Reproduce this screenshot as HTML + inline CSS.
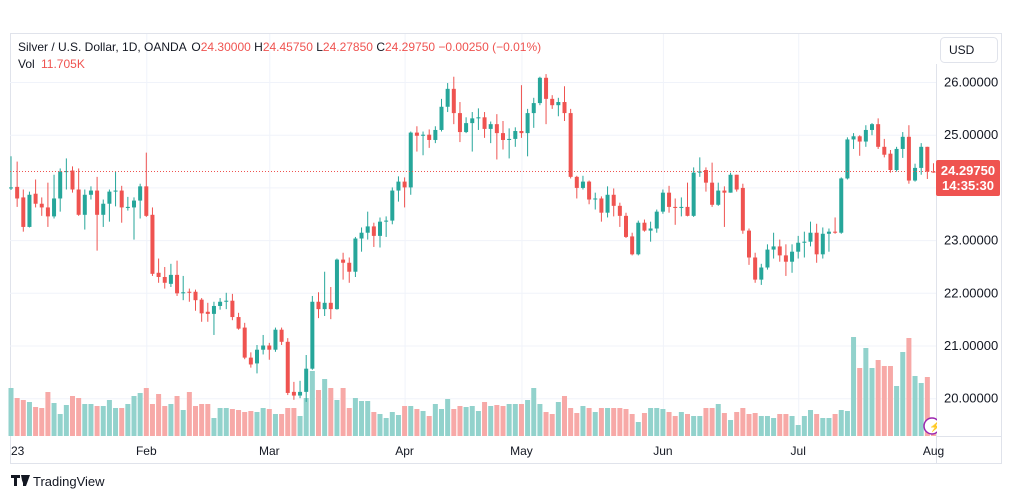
<!DOCTYPE html>
<html><head><meta charset="utf-8"><style>
html,body{margin:0;padding:0;background:#fff;width:1012px;height:498px;overflow:hidden}
svg{display:block;font-family:"Liberation Sans",sans-serif}
</style></head><body>
<svg id="chart" width="1012" height="498" viewBox="0 0 1012 498">
<rect x="10.5" y="33.5" width="991" height="430" fill="#fff" stroke="#e0e3eb"/>
<g id="grid"></g>
<g id="vols"></g>
<g id="candles"></g>
<line x1="10" x2="936" y1="171.5" y2="171.5" stroke="#ef5350" stroke-width="1" stroke-dasharray="1,2"/>
<rect x="936" y="34" width="65" height="429" fill="#fff"/>
<line x1="936.5" x2="936.5" y1="64" y2="463" stroke="#e0e3eb"/>
<line x1="936" x2="1001" y1="436.5" y2="436.5" stroke="#e0e3eb"/>
<g id="yaxis"></g>
<g id="xaxis"></g>
<rect x="940.5" y="37.5" width="57" height="25" rx="4" fill="#fff" stroke="#e0e3eb"/>
<text x="949" y="54" font-size="12" fill="#131722">USD</text>
<rect x="936" y="160" width="64" height="36" rx="2" fill="#ef5350"/>
<text x="968" y="175" font-size="13" font-weight="bold" fill="#fff" text-anchor="middle">24.29750</text>
<text x="968" y="190" font-size="13" font-weight="bold" fill="#fff" text-anchor="middle">14:35:30</text>
<text x="18" y="51" font-size="12" fill="#131722">Silver / U.S. Dollar, 1D, OANDA <tspan dx="2">O</tspan><tspan fill="#ef5350">24.30000</tspan> <tspan>H</tspan><tspan fill="#ef5350">24.45750</tspan> <tspan>L</tspan><tspan fill="#ef5350">24.27850</tspan> <tspan>C</tspan><tspan fill="#ef5350">24.29750</tspan> <tspan fill="#ef5350">−0.00250 (−0.01%)</tspan></text>
<text x="18" y="68" font-size="12" fill="#131722">Vol <tspan fill="#ef5350" dx="3">11.705K</tspan></text>
<circle cx="932" cy="426" r="8" fill="#fff" stroke="#9c27b0" stroke-width="1.5"/>
<text x="929" y="430" font-size="10" fill="#9c27b0">⚡</text>
<rect x="937" y="412" width="10" height="24" fill="#fff"/>
<g>
<path d="M11 475h9v3h-3v8h-3v-8h-3z M21 475h3l-1.5 8z M23 475h7l-4 11h-3z" fill="#131722"/>
<text x="33" y="486" font-size="13" fill="#131722">TradingView</text>
</g>
</svg>
<script>
const opens=[23.98,24.01,23.81,23.25,23.88,23.69,23.62,23.45,23.79,24.29,24.32,23.96,23.48,23.86,23.94,23.48,23.69,23.92,23.94,23.61,23.62,23.75,24.02,23.48,22.38,22.30,22.17,22.34,21.99,22.02,22.02,21.87,21.64,21.60,21.75,21.83,21.85,21.54,21.34,20.77,20.66,20.92,21.00,20.92,21.30,21.07,20.12,20.05,20.12,20.56,21.83,21.69,21.81,21.69,22.63,22.57,22.40,23.03,23.14,23.26,23.08,23.35,23.37,23.94,24.11,24.00,25.04,24.98,25.00,24.90,25.09,25.53,25.87,25.41,25.05,25.22,25.31,25.33,25.11,25.20,25.03,24.90,24.92,25.07,25.03,25.41,25.60,26.08,25.68,25.56,25.62,25.41,24.20,23.99,24.11,23.77,23.79,23.52,23.86,23.65,23.46,23.07,22.73,23.33,23.18,23.22,23.54,23.90,23.63,23.61,23.63,23.46,24.28,24.33,24.09,23.67,23.94,23.90,24.24,23.99,23.18,22.67,22.25,22.48,22.82,22.88,22.71,22.59,22.78,22.95,22.97,23.14,22.73,23.12,23.16,23.14,24.17,24.91,24.97,24.87,25.09,25.20,24.77,24.64,24.33,24.73,24.96,24.13,24.37,24.77,24.30];
const highs=[24.59,24.49,23.96,23.92,24.15,23.81,24.09,24.24,24.36,24.55,24.40,24.36,23.96,24.02,24.20,23.77,23.96,24.30,24.03,23.82,23.81,24.07,24.66,23.62,22.65,22.49,22.55,22.61,22.32,22.08,22.06,21.90,21.81,21.83,21.90,22.00,21.98,21.62,21.43,20.87,21.01,21.20,21.05,21.34,21.34,21.14,20.31,20.33,20.82,21.94,22.01,22.40,22.11,22.65,22.76,22.67,23.06,23.24,23.54,23.33,23.43,23.45,24.00,24.21,24.19,25.06,25.16,25.06,25.10,25.16,25.68,25.98,26.10,25.62,25.33,25.43,25.50,25.43,25.25,25.39,25.26,25.12,25.14,25.94,25.49,25.70,26.10,26.15,25.75,25.70,25.92,25.49,24.22,24.22,24.13,23.90,23.83,24.02,23.98,23.71,23.52,23.14,23.37,23.39,23.35,23.58,23.96,24.03,23.79,23.81,24.09,24.38,24.57,24.38,24.47,24.09,24.02,24.28,24.24,24.07,23.22,22.76,22.55,22.92,23.14,23.01,22.92,22.92,23.08,23.16,23.35,23.31,23.24,23.22,23.43,24.19,24.95,25.03,24.99,25.18,25.22,25.31,24.92,24.71,24.77,25.05,25.18,24.45,24.84,24.77,24.4575];
const lows=[23.95,23.63,23.16,23.24,23.62,23.46,23.25,23.41,23.54,23.96,23.90,23.46,23.20,23.77,22.80,23.25,23.35,23.64,23.33,23.56,23.01,23.41,23.44,22.32,22.19,22.08,22.11,21.94,21.86,21.83,21.66,21.45,21.45,21.20,21.68,21.69,21.48,21.30,20.74,20.58,20.47,20.83,20.73,20.88,21.01,20.06,19.97,20.00,19.93,20.54,21.52,21.56,21.50,21.68,22.25,22.19,22.30,22.78,23.01,22.87,22.86,23.06,23.30,23.73,23.62,23.86,24.68,24.61,24.75,24.84,25.06,25.43,25.20,24.86,25.03,24.68,25.09,24.94,24.84,24.53,24.72,24.55,24.77,24.94,24.59,25.13,25.56,25.20,25.49,25.35,25.26,24.17,23.79,23.96,23.68,23.58,23.35,23.43,23.45,23.25,23.04,22.71,22.71,23.16,22.97,23.14,23.50,23.52,23.29,23.45,23.45,23.44,24.20,23.92,23.63,23.65,23.25,23.90,23.92,23.12,22.53,22.19,22.15,22.44,22.65,22.59,22.32,22.38,22.65,22.67,22.88,22.57,22.65,22.78,23.12,23.12,24.15,24.73,24.60,24.77,24.99,24.73,24.57,24.28,24.30,24.56,24.07,24.11,24.24,24.16,24.2785];
const closes=[24.00,23.79,23.25,23.86,23.69,23.62,23.45,23.79,24.30,24.31,23.96,23.48,23.86,23.94,23.48,23.69,23.92,23.94,23.62,23.63,23.75,24.02,23.46,22.36,22.30,22.19,22.34,21.99,22.01,22.00,21.86,21.61,21.60,21.75,21.83,21.85,21.54,21.32,20.77,20.64,20.92,21.00,20.92,21.30,21.07,20.10,20.05,20.12,20.56,21.83,21.69,21.81,21.69,22.63,22.57,22.40,23.03,23.14,23.26,23.08,23.35,23.37,23.94,24.11,24.00,25.04,24.98,25.00,24.90,25.09,25.53,25.87,25.41,25.05,25.22,25.31,25.33,25.11,25.20,25.03,24.90,24.92,25.07,25.03,25.41,25.60,26.08,25.68,25.56,25.62,25.41,24.20,23.99,24.11,23.77,23.79,23.52,23.86,23.65,23.46,23.06,22.73,23.33,23.18,23.22,23.54,23.90,23.63,23.61,23.63,23.46,24.28,24.30,24.09,23.67,23.94,23.90,24.24,23.96,23.18,22.67,22.25,22.48,22.82,22.88,22.71,22.59,22.78,22.95,22.97,23.14,22.73,23.12,23.16,23.14,24.17,24.91,24.97,24.87,25.09,25.20,24.77,24.62,24.33,24.73,24.96,24.13,24.37,24.77,24.30,24.2975];
const volumes=[48,38,36,34,29,28,44,33,22,31,40,38,32,32,30,30,36,28,28,32,40,43,48,32,42,30,32,40,26,44,30,32,32,18,28,28,27,26,24,25,24,28,27,22,22,28,28,20,38,65,46,57,48,36,48,28,38,35,35,24,22,18,24,21,30,30,27,25,20,32,27,37,27,30,29,30,25,34,30,31,30,32,32,32,36,48,32,24,22,34,40,28,23,30,28,24,28,28,28,28,27,22,14,23,28,28,27,24,20,24,22,20,20,28,28,32,23,16,24,28,22,23,20,20,18,22,22,20,11,20,26,22,18,18,22,26,25,99,68,88,68,76,70,70,50,84,98,60,53,59,12];
const priceTicks=[20,21,22,23,25,26];
const priceTickLabels=["20.00000","21.00000","22.00000","23.00000","25.00000","26.00000"];
const monthLabels=["23","Feb","Mar","Apr","May","Jun","Jul","Aug"];
const monthBarIndex=[0,22,42,64,83,106,128,150];

const NS="http://www.w3.org/2000/svg";
const xOf=i=>11+i*6.15;
const yOf=p=>82+(26-p)*52.7;
const yVol=v=>436-v;
function mk(tag,attrs,parent){const e=document.createElementNS(NS,tag);for(const k in attrs)e.setAttribute(k,attrs[k]);parent.appendChild(e);return e;}
const grid=document.getElementById('grid'),vg=document.getElementById('vols'),cg=document.getElementById('candles'),ya=document.getElementById('yaxis'),xa=document.getElementById('xaxis');
[20,21,22,23,24,25,26].forEach(p=>{
  const l=mk('line',{x1:10,x2:936,y1:yOf(p)+0.5,y2:yOf(p)+0.5,stroke:'#f0f3fa'},grid);
  
  
});
priceTicks.forEach((p,k)=>{
  const t=mk('text',{x:944,y:yOf(p)+4.5,'font-size':13,fill:'#131722'},ya);
  t.textContent=priceTickLabels[k];
  
  
});
monthLabels.forEach((m,k)=>{
  const x=xOf(monthBarIndex[k]);
  if(k>0&&k<7){const l=mk('line',{x1:x+0.5,x2:x+0.5,y1:34,y2:436,stroke:'#f0f3fa'},grid);
  
  }
  const t=mk('text',{x:k==0?11:x,y:455,'font-size':12,fill:'#131722','text-anchor':k==0?'start':'middle'},xa);
  t.textContent=m;
  
  
});
volumes.forEach((v,i)=>{
  const up=closes[i]>=opens[i];
  const r=mk('rect',{x:xOf(i)-2.5,y:yVol(v),width:5,height:v,fill:up?'#92d2cc':'#f7a9a7'},vg);
  
  
});
opens.forEach((o,i)=>{
  const c=closes[i],up=c>=o,col=up?'#26a69a':'#ef5350',x=xOf(i);
  const w=mk('line',{x1:x,x2:x,y1:yOf(highs[i]),y2:yOf(lows[i]),stroke:col,'stroke-width':1},cg);
  
  
  const top=yOf(Math.max(o,c)),bot=yOf(Math.min(o,c));
  const b=mk('rect',{x:x-2,y:top,width:4,height:Math.max(1,bot-top),fill:col},cg);
  
  
});
</script>
</body></html>
